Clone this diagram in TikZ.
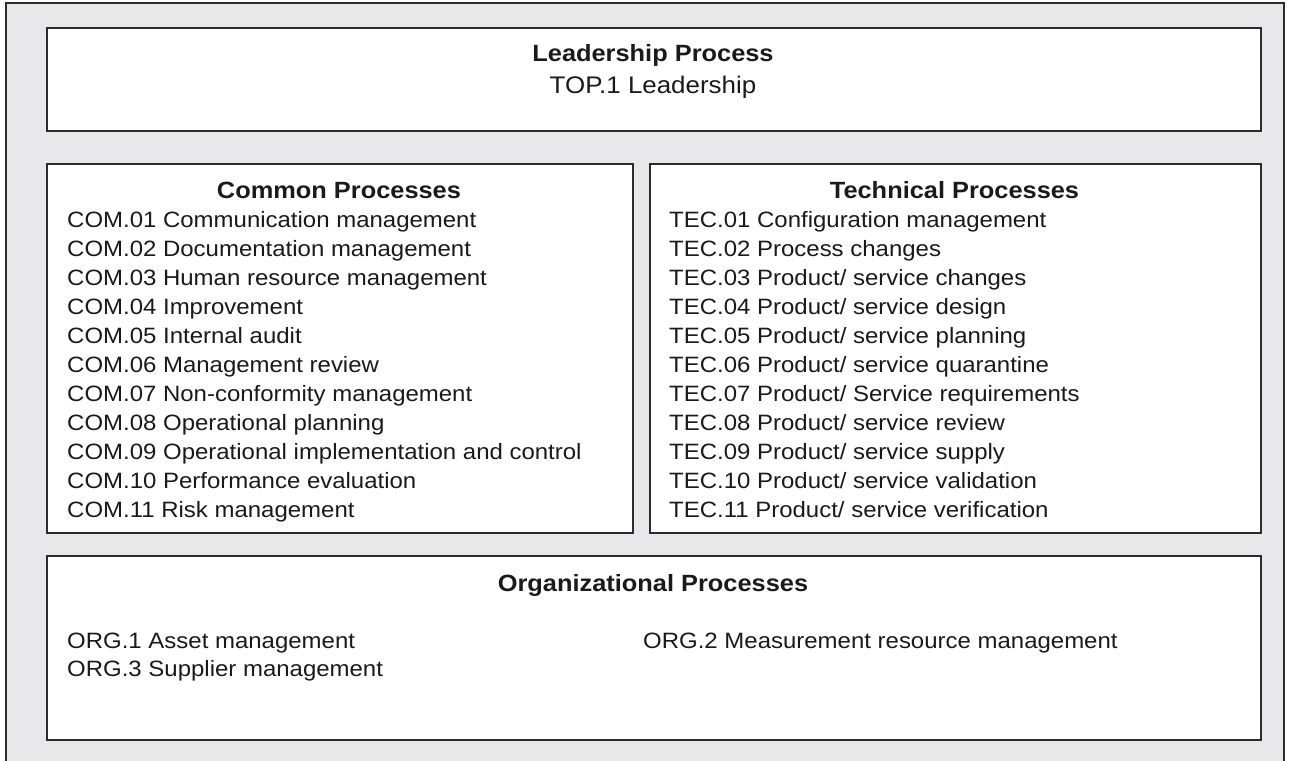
\documentclass[tikz,border=0pt]{standalone}
\usepackage{fontspec}
\setmainfont{Liberation Sans}[FakeStretch=1.08]
\definecolor{boxline}{HTML}{2B2B2B}
\definecolor{panelbg}{HTML}{E8E8EA}
\definecolor{inktext}{HTML}{1A1A1A}
\begin{document}
\begin{tikzpicture}[x=1pt,y=-1pt,
  panel/.style={draw=boxline, line width=2pt, fill=white, anchor=north west, inner sep=0pt},
  head/.style={font=\fontsize{23.5}{27}\selectfont\bfseries, text=inktext, anchor=base, inner sep=0pt},
  item/.style={font=\fontsize{22.2}{26}\selectfont, text=inktext, anchor=base west, inner sep=0pt}]
\useasboundingbox (0,0) rectangle (1289,760);
\begin{scope}
\clip (0,0) rectangle (1289,760);
\draw[draw=boxline, line width=2pt, fill=panelbg] (6,3) rectangle (1284,790);
\end{scope}

% process group boxes
\node[panel, minimum width=1214, minimum height=103] (lead) at (46,27) {};
\node[panel, minimum width=586, minimum height=369] (com) at (46,163) {};
\node[panel, minimum width=611, minimum height=369] (tec) at (649,163) {};
\node[panel, minimum width=1214, minimum height=184] (org) at (46,555) {};

% leadership
\node[head] (leadh) at (653,61.7) {Leadership Process};
\node[item, anchor=base, font=\fontsize{24}{28}\selectfont] (top1) at (653,93) {TOP.1 Leadership};

% common processes
\node[head] (comh) at (339,198) {Common Processes};
\foreach \t [count=\i] in {COM.01 Communication management,
  COM.02 Documentation management,
  COM.03 Human resource management,
  COM.04 Improvement,
  COM.05 Internal audit,
  COM.06 Management review,
  COM.07 Non-conformity management,
  COM.08 Operational planning,
  COM.09 Operational implementation and control,
  COM.10 Performance evaluation,
  COM.11 Risk management}
  \node[item] (com\i) at (67,{227.5+(\i-1)*28.95}) {\t};

% technical processes
\node[head] (tech) at (954.5,198) {Technical Processes};
\foreach \t [count=\i] in {TEC.01 Configuration management,
  TEC.02 Process changes,
  TEC.03 Product/ service changes,
  TEC.04 Product/ service design,
  TEC.05 Product/ service planning,
  TEC.06 Product/ service quarantine,
  TEC.07 Product/ Service requirements,
  TEC.08 Product/ service review,
  TEC.09 Product/ service supply,
  TEC.10 Product/ service validation,
  TEC.11 Product/ service verification}
  \node[item] (tec\i) at (669,{227.5+(\i-1)*28.95}) {\t};

% organizational processes
\node[head] (orgh) at (653,591) {Organizational Processes};
\node[item] (org1) at (67,648) {ORG.1 Asset management};
\node[item] (org2) at (643,648) {ORG.2 Measurement resource management};
\node[item] (org3) at (67,676) {ORG.3 Supplier management};
\end{tikzpicture}
\end{document}
